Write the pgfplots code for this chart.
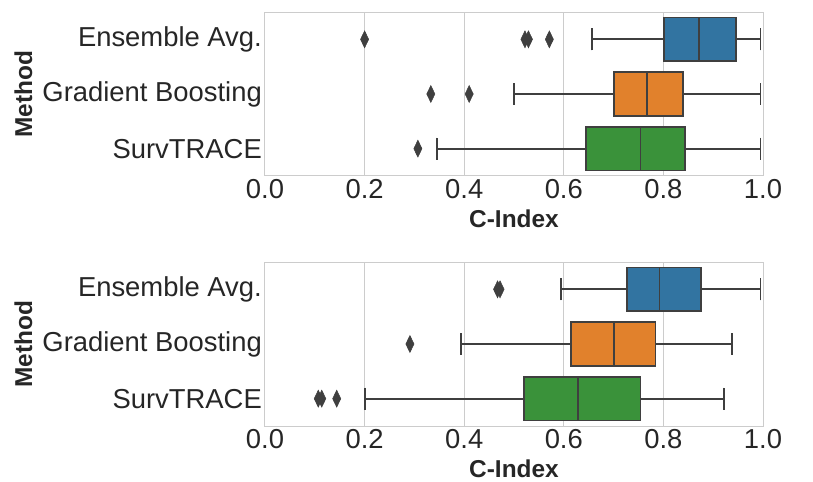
\documentclass[border=0pt]{standalone}
\usepackage{fontspec}
\setmainfont{Liberation Sans}
\usepackage{pgfplots}
\pgfplotsset{compat=1.18}
\usepgfplotslibrary{statistics}
\definecolor{sbblue}{HTML}{3274A1}
\definecolor{sborange}{HTML}{E1812C}
\definecolor{sbgreen}{HTML}{3A923A}
\definecolor{edge}{HTML}{3F3F3F}
\definecolor{gridc}{HTML}{CCCCCC}
\definecolor{txt}{HTML}{262626}
\pgfplotsset{
  panel/.style={
    width=498bp, height=164bp, scale only axis,
    xmin=0, xmax=1, ymin=-0.5, ymax=2.5,
    axis line style={gridc, line width=1bp},
    xmajorgrids, grid style={gridc, line width=1bp},
    major tick length=0pt, tick style={draw=none},
    xtick={0,0.2,0.4,0.6,0.8,1},
    xticklabel style={/pgf/number format/fixed, /pgf/number format/fixed zerofill, /pgf/number format/precision=1, inner sep=3bp},
    /pgf/number format/assume math mode=true,
    ytick={0,1,2},
    yticklabels={SurvTRACE, Gradient Boosting, Ensemble Avg.},
    yticklabel style={inner sep=3bp},
    tick label style={font=\fontsize{27.5}{32}\selectfont, text=txt},
    label style={font=\fontsize{24.5}{29}\selectfont\bfseries, text=txt},
    xlabel={C-Index}, ylabel={Method},
    xlabel style={inner sep=1bp, yshift=-7bp},
    ylabel style={inner sep=2bp, yshift=5bp},
    boxplot/draw direction=x,
    boxplot/box extend=0.8,
    boxplot/whisker extend=0.4,
  },
  bx/.style={draw=edge, line width=1.8bp, fill=#1, solid,
    boxplot/every box/.style={draw=edge, line width=1.8bp, fill=#1},
    boxplot/every whisker/.style={draw=edge, line width=1.8bp},
    boxplot/every median/.style={draw=edge, line width=1.8bp}},
  ol/.style={only marks, mark=diamond*, mark size=8.5bp, mark options={xscale=0.64, fill=edge, draw=edge, line width=0.5bp}},
}
\begin{document}
\begin{tikzpicture}
\path[use as bounding box] (-265bp,12bp) rectangle (548bp,-470bp);
\begin{axis}[panel, at={(0,0)}, anchor=north west]
\addplot[bx=sbblue, boxplot prepared={lower whisker=0.656, lower quartile=0.801, median=0.871, upper quartile=0.945, upper whisker=0.995, draw position=2}] coordinates {};
\addplot[bx=sborange, boxplot prepared={lower whisker=0.500, lower quartile=0.700, median=0.767, upper quartile=0.839, upper whisker=0.995, draw position=1}] coordinates {};
\addplot[bx=sbgreen, boxplot prepared={lower whisker=0.345, lower quartile=0.644, median=0.754, upper quartile=0.843, upper whisker=0.995, draw position=0}] coordinates {};
\addplot[ol] coordinates {(0.200,2) (0.522,2) (0.529,2) (0.571,2) (0.333,1) (0.410,1) (0.307,0)};
\end{axis}
\begin{axis}[panel, at={(0,-250bp)}, anchor=north west]
\addplot[bx=sbblue, boxplot prepared={lower whisker=0.595, lower quartile=0.727, median=0.792, upper quartile=0.876, upper whisker=0.995, draw position=2}] coordinates {};
\addplot[bx=sborange, boxplot prepared={lower whisker=0.394, lower quartile=0.614, median=0.700, upper quartile=0.784, upper whisker=0.938, draw position=1}] coordinates {};
\addplot[bx=sbgreen, boxplot prepared={lower whisker=0.201, lower quartile=0.520, median=0.629, upper quartile=0.754, upper whisker=0.921, draw position=0}] coordinates {};
\addplot[ol] coordinates {(0.467,2) (0.472,2) (0.291,1) (0.107,0) (0.114,0) (0.144,0)};
\end{axis}
\end{tikzpicture}
\end{document}
